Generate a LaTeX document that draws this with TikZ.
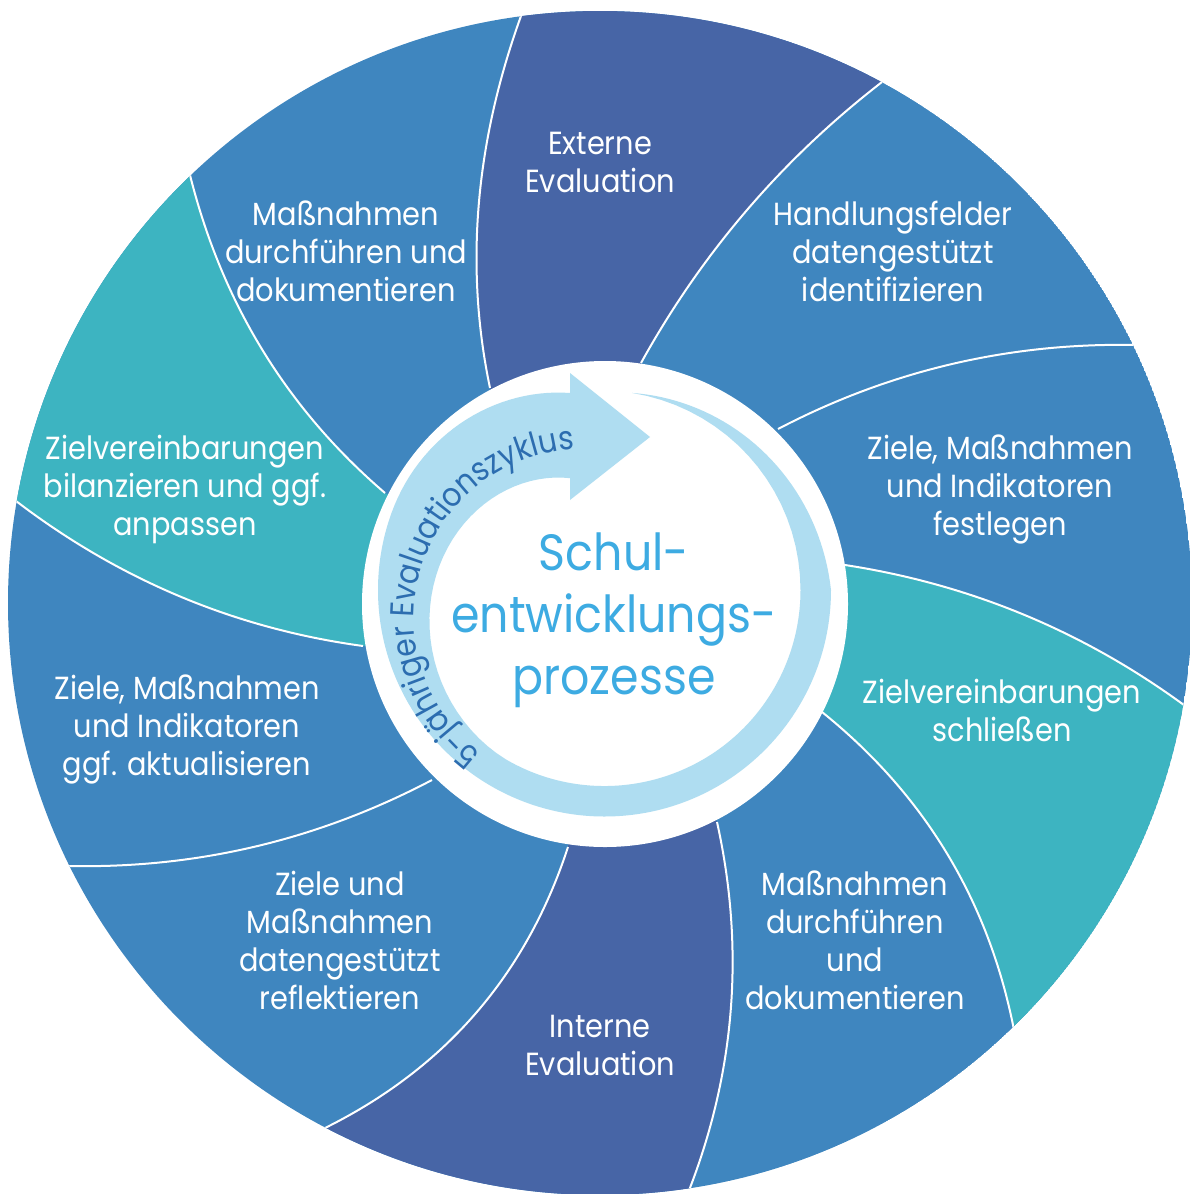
\documentclass[tikz,border=0pt]{standalone}
\usepackage{fontspec}
\setmainfont{Poppins}[FakeStretch=0.9]
\usetikzlibrary{calc,decorations.text}
\definecolor{midblue}{HTML}{3F86BF}
\definecolor{darkblue}{HTML}{4765A6}
\definecolor{tealseg}{HTML}{3DB4C1}
\definecolor{bandcol}{HTML}{AFDDF1}
\definecolor{centertext}{HTML}{3DABE2}
\definecolor{cyctext}{HTML}{2C6DB0}
\begin{document}
\begin{tikzpicture}[x=1pt,y=1pt,
  seglabel/.style={text=white, align=center, font=\fontsize{32}{38}\selectfont, inner sep=0pt},
  sepline/.style={draw=white, line width=2pt},
]
\useasboundingbox (0,0) rectangle (1190,-1194);
\coordinate (cen) at (600,-603);
\coordinate (dc) at (605,-604);
% boundary curves: inner point A, (quadratic) control P, outer point O
\coordinate (A1) at (490,-388);  \coordinate (P1) at (452,-207);     \coordinate (O1) at (521,-16);
\coordinate (A2) at (641,-363);  \coordinate (P2) at (732.5,-197.5); \coordinate (O2) at (882,-82);
\coordinate (A3) at (778,-429);  \coordinate (P3) at (946.5,-341);   \coordinate (O3) at (1137,-345);
\coordinate (A4) at (845,-565);  \coordinate (P4) at (1034,-594);    \coordinate (O4) at (1188,-708);
\coordinate (A5) at (822,-712);  \coordinate (P5) at (976,-836);     \coordinate (O5) at (1014,-1030);
\coordinate (A6) at (717,-822);  \coordinate (P6) at (759,-1012);    \coordinate (O6) at (688,-1193);
\coordinate (A7) at (568,-847);  \coordinate (P7) at (505.5,-1038.5);\coordinate (O7) at (325,-1128);
\coordinate (A8) at (432,-780);  \coordinate (P8) at (261,-870);     \coordinate (O8) at (68,-866);
\coordinate (A9) at (363,-646);  \coordinate (P9) at (172,-620);     \coordinate (O9) at (16,-501);
\coordinate (A10) at (385,-493); \coordinate (P10) at (238,-367);    \coordinate (O10) at (190,-175);
% cubic control points equivalent to the quadratic ones
\foreach \i in {1,...,10} {
  \coordinate (Ca\i) at ($(A\i)!0.6667!(P\i)$);
  \coordinate (Cb\i) at ($(O\i)!0.6667!(P\i)$);
}

\begin{scope}
  \clip (cen) circle (592);
  \fill[midblue] (cen) circle (592);
  % dark blue: Externe Evaluation
  \fill[darkblue] (dc) -- (A1) .. controls (Ca1) and (Cb1) .. (O1) -- ($(cen)!1.3!(O1)$) -- ($(cen)!1.3!(O2)$) -- (O2) .. controls (Cb2) and (Ca2) .. (A2) -- cycle;
  % teal: Zielvereinbarungen schliessen
  \fill[tealseg] (dc) -- (A4) .. controls (Ca4) and (Cb4) .. (O4) -- ($(cen)!1.3!(O4)$) -- ($(cen)!1.3!(O5)$) -- (O5) .. controls (Cb5) and (Ca5) .. (A5) -- cycle;
  % dark blue: Interne Evaluation
  \fill[darkblue] (dc) -- (A6) .. controls (Ca6) and (Cb6) .. (O6) -- ($(cen)!1.3!(O6)$) -- ($(cen)!1.3!(O7)$) -- (O7) .. controls (Cb7) and (Ca7) .. (A7) -- cycle;
  % teal: Zielvereinbarungen bilanzieren
  \fill[tealseg] (dc) -- (A9) .. controls (Ca9) and (Cb9) .. (O9) -- ($(cen)!1.3!(O9)$) -- ($(cen)!1.3!(O10)$) -- (O10) .. controls (Cb10) and (Ca10) .. (A10) -- cycle;
  \foreach \i in {1,...,10} {
    \draw[sepline] (A\i) .. controls (Ca\i) and (Cb\i) .. (O\i);
  }
\end{scope}

% white inner disc
\fill[white] (dc) circle (243);

% circular arrow band (spiral, widening towards the head)
\begin{scope}[shift={(604.5,-590)}]
  \fill[bandcol]
    plot[domain=82:0, samples=40] (\x:{199+27.5*(1-\x/82)*(1-0.3*\x/82)})
    arc[start angle=0, end angle=-200, radius=226.5]
    -- plot[domain=-200:-260.07, samples=30] (\x:{226.5-26.5*((-200-\x)/60.07)^2})
    -- (-34.5,217) -- (45.5,153) -- (-34.5,90) -- (-34.5,112)
    -- plot[domain=-252.9:-120, samples=40] (\x:{196-79*((-120-\x)/132.9)*sqrt((-120-\x)/132.9)})
    arc[start angle=-120, end angle=0, radius=196]
    -- plot[domain=0:82, samples=20] (\x:{196+3*(\x/82)*(\x/82)})
    -- cycle;
\end{scope}

% text along the band
\path[decorate, decoration={text along path, text align=center, text color=cyctext,
   text={|\fontsize{33}{36}\selectfont|5-jähriger Evaluationszyklus}}]
   (583,-618) ++(245:169) arc[start angle=245, end angle=81, radius=169];

% centre text
\node[text=centertext, align=center, font=\fontsize{51}{62}\selectfont, inner sep=0pt] (centre) at (614,-620) {Schul-\\entwicklungs-\\prozesse};

% segment labels
\node[seglabel] (s1) at (600,-162) {Externe\\Evaluation};
\node[seglabel] (s2) at (893,-251) {Handlungsfelder\\datengestützt\\identifizieren};
\node[seglabel] (s3) at (1000,-489) {Ziele, Maßnahmen\\und Indikatoren\\festlegen};
\node[seglabel] (s4) at (1002,-710) {Zielvereinbarungen\\schließen};
\node[seglabel] (s5) at (855,-940) {Maßnahmen\\durchführen\\und\\dokumentieren};
\node[seglabel] (s6) at (600,-1045) {Interne\\Evaluation};
\node[seglabel] (s7) at (340,-940) {Ziele und\\Maßnahmen\\datengestützt\\reflektieren};
\node[seglabel] (s8) at (187,-729) {Ziele, Maßnahmen\\und Indikatoren\\ggf. aktualisieren};
\node[seglabel] (s9) at (185,-489) {Zielvereinbarungen\\bilanzieren und ggf.\\anpassen};
\node[seglabel] (s10) at (346,-251) {Maßnahmen\\durchführen und\\dokumentieren};
\end{tikzpicture}
\end{document}
